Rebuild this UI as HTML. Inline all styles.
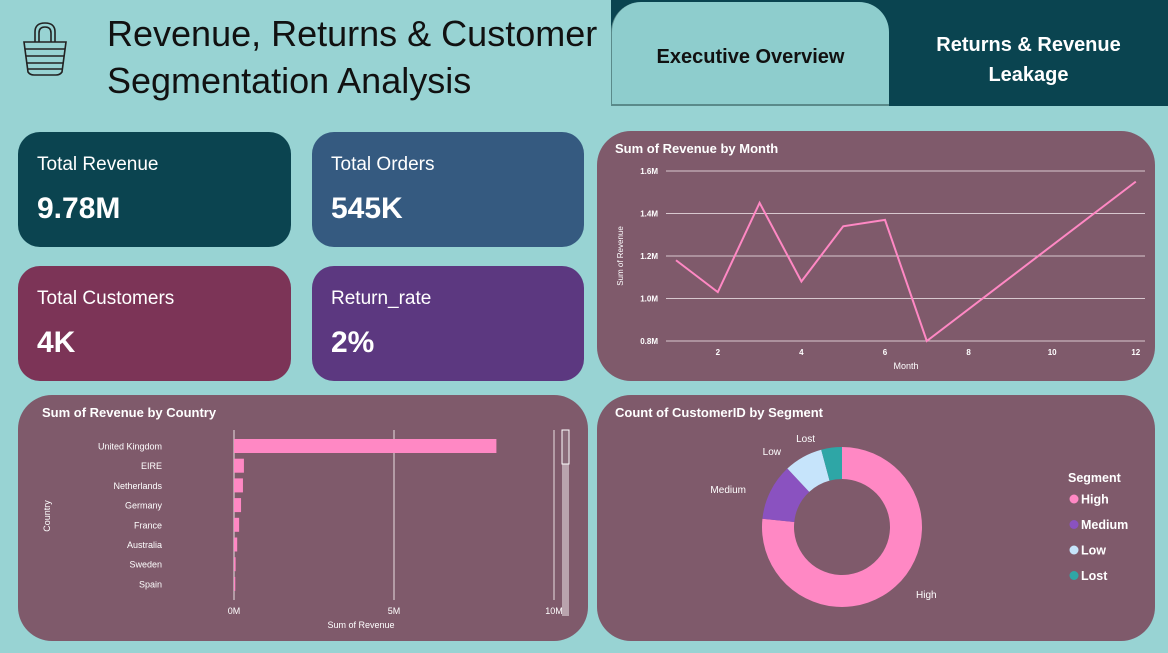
<!DOCTYPE html>
<html><head><meta charset="utf-8"><style>
*{box-sizing:border-box;margin:0;padding:0}
body{width:1168px;height:653px;background:#98d3d3;font-family:"Liberation Sans",sans-serif;position:relative;overflow:hidden}
.abs{position:absolute}
.card{position:absolute;border-radius:22px;color:#fff}
.card .lbl{position:absolute;left:19px;top:22px;font-size:19px}
.card .val{position:absolute;left:19px;top:60px;font-size:30px;font-weight:bold}
.panel{position:absolute;background:#7f5a6b;border-radius:34px}
.ptitle{position:absolute;left:18px;top:10px;color:#fff;font-size:13px;font-weight:bold}
svg text{font-family:"Liberation Sans",sans-serif}
</style></head><body>
<svg class="abs" style="left:20px;top:20px" width="50" height="56" viewBox="0 0 50 56">
<g fill="none" stroke="#222" stroke-width="1.6"><path d="M15 22 V12 Q15 3 25 3 Q35 3 35 12 V22"/><path d="M19 22 V13 Q19 7 25 7 Q31 7 31 13 V22"/><path d="M4 22 H46 L42 52 Q40 55 36 55 H14 Q10 55 8 52 Z"/><path d="M5 29 H45 M6 36 H44 M7 43 H43 M8 49 H42"/></g></svg>
<div class="abs" style="left:107px;top:10px;font-size:36px;line-height:47px;color:#111">Revenue, Returns &amp; Customer<br>Segmentation Analysis</div>
<div class="abs" style="left:611px;top:0;width:557px;height:106px;background:#0a4450"></div>
<div class="abs" style="left:611px;top:2px;width:278px;height:104px;background:#8ecdcd;border-radius:30px 30px 0 0;border-bottom:2px solid #5a8a8a;border-left:1px solid #5a8a8a;font-weight:bold;font-size:20px;color:#111;display:flex;align-items:center;justify-content:center;padding-top:8px">Executive Overview</div>
<div class="abs" style="left:889px;top:30px;width:279px;text-align:center;font-weight:bold;font-size:20px;line-height:30px;color:#fff">Returns &amp; Revenue<br>Leakage</div>

<div class="card" style="left:18px;top:132px;width:273px;height:115px;background:#0b4450"><div class="lbl">Total Revenue</div><div class="val">9.78M</div></div>
<div class="card" style="left:312px;top:132px;width:272px;height:115px;background:#355a80"><div class="lbl">Total Orders</div><div class="val">545K</div></div>
<div class="card" style="left:18px;top:266px;width:273px;height:115px;background:#7c3457"><div class="lbl">Total Customers</div><div class="val">4K</div></div>
<div class="card" style="left:312px;top:266px;width:272px;height:115px;background:#5c3880"><div class="lbl">Return_rate</div><div class="val">2%</div></div>

<div class="panel" style="left:597px;top:131px;width:558px;height:250px"><div class="ptitle">Sum of Revenue by Month</div></div>
<div class="panel" style="left:18px;top:395px;width:570px;height:246px"><div class="ptitle" style="left:24px">Sum of Revenue by Country</div></div>
<div class="panel" style="left:597px;top:395px;width:558px;height:246px"><div class="ptitle">Count of CustomerID by Segment</div></div>

<svg id="charts" class="abs" style="left:0;top:0" width="1168" height="653"></svg>
<script>
const months=[1,2,3,4,5,6,7,12];
const monthRevenue=[1.18,1.03,1.45,1.08,1.34,1.37,0.80,1.55];
const yTicks=[0.8,1.0,1.2,1.4,1.6];
const yTickLabels=["0.8M","1.0M","1.2M","1.4M","1.6M"];
const xTicks=[2,4,6,8,10,12];
const countries=["United Kingdom","EIRE","Netherlands","Germany","France","Australia","Sweden","Spain"];
const countryRevenue=[8.2,0.31,0.28,0.22,0.16,0.1,0.05,0.04];
const barTicks=[0,5,10];
const barTickLabels=["0M","5M","10M"];
const segments=["High","Medium","Low","Lost"];
const segmentCounts=[3300,490,335,180];
const segmentColors=["#ff88c4","#8a52c0","#c6e4fb","#2ea6a6"];

const S=document.getElementById('charts');const NS="http://www.w3.org/2000/svg";
function mk(t,a,txt){const e=document.createElementNS(NS,t);for(const k in a)e.setAttribute(k,a[k]);if(txt!=null)e.textContent=txt;S.appendChild(e);return e;}
// line chart
const lx=m=>676+(m-1)*41.8, ly=v=>341-(v-0.8)*212.5;
yTicks.forEach((t,i)=>{
 const g=mk('line',{x1:666,x2:1145,y1:ly(t),y2:ly(t),stroke:'#d8c8cf','stroke-width':1});
 
 
 const l=mk('text',{x:658,y:ly(t)+3,'font-size':8,'font-weight':'bold',fill:'#fff','text-anchor':'end'},yTickLabels[i]);
 
 
});
xTicks.forEach(t=>{const l=mk('text',{x:lx(t),y:355,'font-size':8,'font-weight':'bold',fill:'#fff','text-anchor':'middle'},t);
 
 });
let e=mk('text',{x:906,y:369,'font-size':9,fill:'#fff','text-anchor':'middle'},'Month');


e=mk('text',{x:623,y:256,'font-size':8,fill:'#fff','text-anchor':'middle',transform:'rotate(-90 623 256)'},'Sum of Revenue');


e=mk('polyline',{points:months.map((m,i)=>lx(m)+','+ly(monthRevenue[i])).join(' '),fill:'none',stroke:'#ff88c4','stroke-width':2});


// bar chart
const bx=v=>234+v*32, by=i=>446+i*19.7;
barTicks.forEach((t,i)=>{
 const g=mk('line',{x1:bx(t),x2:bx(t),y1:430,y2:600,stroke:'#e8dde2','stroke-width':1});
 
 
 const l=mk('text',{x:bx(t),y:614,'font-size':9,fill:'#fff','text-anchor':'middle'},barTickLabels[i]);
 
 
});
countries.forEach((c,i)=>{
 const r=mk('rect',{x:bx(0),y:by(i)-7,width:countryRevenue[i]*32,height:14,fill:'#ff88c4'});
 
 
 const l=mk('text',{x:162,y:by(i)+3.5,'font-size':9,fill:'#fff','text-anchor':'end'},c);
 
 
});
e=mk('text',{x:361,y:628,'font-size':9,fill:'#fff','text-anchor':'middle'},'Sum of Revenue');


e=mk('text',{x:50,y:516,'font-size':9,fill:'#fff','text-anchor':'middle',transform:'rotate(-90 50 516)'},'Country');


e=mk('rect',{x:562,y:430,width:7,height:186,fill:'#b9a3ad'});


e=mk('rect',{x:562,y:430,width:7,height:34,fill:'#8a6b79',stroke:'#fff','stroke-width':1});


// donut
const cx=842,cy=527,R=80,r=48;const tot=segmentCounts.reduce((a,b)=>a+b,0);
let a0=0;
const labelPos=[[916,598,'start'],[746,493,'end'],[781,455,'end'],[815,442,'end']];
segments.forEach((s,i)=>{
 const a1=a0+segmentCounts[i]/tot*2*Math.PI;
 const p=(ang,rad)=>[cx+rad*Math.sin(ang),cy-rad*Math.cos(ang)];
 const [x1,y1]=p(a0,R),[x2,y2]=p(a1,R),[x3,y3]=p(a1,r),[x4,y4]=p(a0,r);
 const lg=(a1-a0)>Math.PI?1:0;
 const path=mk('path',{d:`M${x1},${y1} A${R},${R} 0 ${lg} 1 ${x2},${y2} L${x3},${y3} A${r},${r} 0 ${lg} 0 ${x4},${y4} Z`,fill:segmentColors[i]});
 
 
 const l=mk('text',{x:labelPos[i][0],y:labelPos[i][1],'font-size':10,fill:'#fff','text-anchor':labelPos[i][2]},s);
 
 
 const dot=mk('circle',{cx:1074,cy:499+i*25.5,r:4.5,fill:segmentColors[i]});
 
 
 const lt=mk('text',{x:1081,y:503.5+i*25.5,'font-size':12.5,'font-weight':'bold',fill:'#fff'},s);
 
 
 a0=a1;
});
e=mk('text',{x:1068,y:482,'font-size':12.5,'font-weight':'bold',fill:'#fff'},'Segment');


</script>
</body></html>
